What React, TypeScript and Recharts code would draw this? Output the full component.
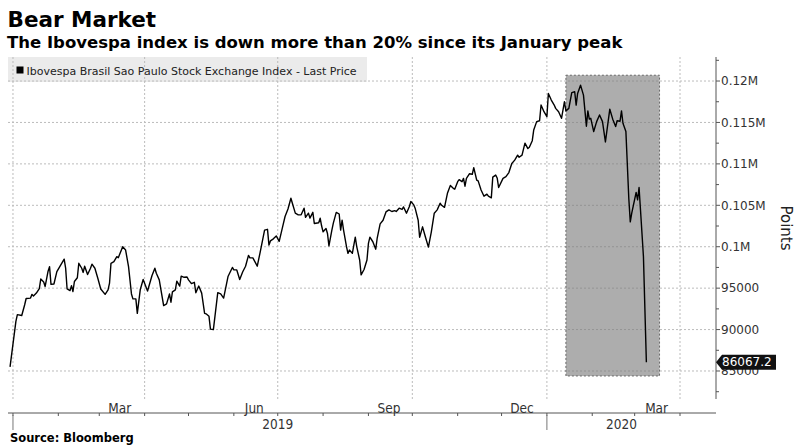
import { LineChart, Line, XAxis, YAxis, CartesianGrid, ReferenceArea } from "recharts";

// trading days, counted from 2019-01-01
const dayIndex = [
  -2, 2, 3, 6, 8, 9, 12, 13, 14, 16, 18, 19, 21, 22, 24, 25, 26, 28, 30, 32, 34, 35, 36, 37, 39, 40, 41, 42, 44, 45,
  47, 48, 49, 51, 53, 54, 56, 58, 60, 63, 65, 66, 67, 69, 71, 72, 75, 77, 79, 81, 82, 84, 85, 87, 89, 92, 95, 97, 98,
  100, 103, 105, 107, 108, 109, 111, 112, 114, 115, 117, 119, 120, 122, 124, 125, 127, 129, 131, 132, 134, 135, 137,
  140, 142, 144, 147, 150, 151, 153, 155, 157, 159, 161, 162, 164, 167, 169, 172, 174, 175, 176, 178, 180, 182, 184,
  186, 188, 190, 191, 193, 195, 197, 199, 200, 202, 203, 205, 206, 209, 210, 211, 212, 214, 215, 216, 218, 219, 221,
  223, 224, 225, 226, 228, 229, 230, 232, 234, 235, 237, 238, 240, 242, 243, 244, 246, 248, 249, 251, 253, 255, 257,
  259, 261, 262, 264, 266, 267, 269, 271, 272, 274, 275, 277, 278, 280, 282, 284, 286, 288, 290, 292, 293, 295, 297,
  299, 301, 302, 304, 305, 307, 308, 309, 310, 312, 314, 315, 317, 318, 320, 322, 324, 325, 327, 328, 330, 331, 332,
  335, 337, 339, 341, 343, 345, 346, 348, 350, 352, 353, 355, 356, 358, 360, 361, 363, 365, 366, 368, 370, 371, 373,
  375, 377, 378, 380, 382, 384, 385, 386, 388, 390, 392, 393, 394, 395, 397, 399, 401, 403, 405, 408, 410, 412, 413,
  415, 416, 417, 419, 421, 422, 423, 426, 427, 428, 429, 431, 433,
];

const lastPrice = [
  85500, 91000, 91800, 91700, 93000, 93750, 93800, 94250, 94050, 94400, 94950, 96100, 95740, 95200, 97050, 97600,
  95450, 95500, 97000, 97600, 98200, 98500, 97430, 94900, 94700, 95300, 94600, 95800, 96260, 98000,
  97400, 96900, 97650, 96650, 97400, 97900, 97400, 96200, 94900, 94250, 94800, 95600, 98000, 98200, 98800, 98675,
  100000, 99600, 97600, 94300, 93700, 93700, 91950, 94800, 96050, 94650, 96500, 97400, 96800,
  96000, 92900, 93100, 94300, 93300, 94550, 94800, 95850, 95250, 96450, 96310, 96350, 96000, 95550, 95700, 94450,
  95250, 94400, 91950, 91900, 91600, 90050, 90000,
  94450, 94300, 93800, 96400, 97500, 97200, 97200, 96050, 96950, 97650, 98950, 98650, 98650, 97650, 99350, 102000,
  102100, 100200, 100700, 100950, 101300, 100650, 102150,
  103650, 104550, 105850, 105250, 104050, 103850, 103850, 104650, 103550, 104050, 103450, 104150, 102800, 102900,
  103450, 102500, 101800, 102200, 101600, 100100, 102000, 102850, 104150,
  103950, 102000, 103200, 102000, 100000, 99200, 99600, 99200, 101150, 100000, 98400, 96600, 97250, 98400, 100400,
  101150, 100600, 99700, 101050, 102750, 103200, 104200, 104450,
  104250, 104350, 104250, 104650, 104500, 104800, 104050, 104850, 105450, 105050, 104600, 103200, 101150, 102400,
  101150, 99950, 101800, 104050, 104450, 105250, 105000, 104750, 106450,
  107400, 107050, 106950, 107850, 108100, 107850, 108250, 107300, 108250, 108800, 108750, 109550, 108050, 107950,
  106850, 106100, 106350, 106100, 105900, 108400, 108650, 108300, 107150,
  108250, 108450, 108950, 110050, 110450, 111050, 110800, 111050, 112500, 111850, 112000, 112800, 114100, 115100,
  115200, 117100, 116300, 115700, 118500, 117700, 117100, 116700, 116300,
  115500, 117500, 116400, 116700, 118600, 118700, 117100, 118500, 119500, 118300, 114550, 116400, 115400, 115500,
  113900, 115100, 115900, 115100, 112650, 116600, 115400, 114500, 115200,
  115150, 116400, 114900, 113900, 105800, 103000, 104050, 106550, 105650, 107150, 104400, 98800, 86067.2,
];

const monthStarts = [0, 31, 59, 90, 120, 151, 181, 212, 243, 273, 304, 334, 365, 396, 425, 456];
const quarterStarts = [0, 90, 181, 273, 365, 456];
const monthLabelDays = [73, 165, 257, 348, 440];
const monthLabels = ["Mar", "Jun", "Sep", "Dec", "Mar"];
const yearStarts = [0, 365];
const yearLabelDays = [181, 416];
const yearLabels = ["2019", "2020"];

const yTicks = [
  82500, 85000, 87500, 90000, 92500, 95000, 97500, 100000, 102500, 105000, 107500, 110000, 112500, 115000, 117500,
  120000, 122500,
];
const gridValues = [85000, 90000, 95000, 100000, 105000, 110000, 115000, 120000];

const lastClose = 86067.2;
const shadeDays = [378, 442];
const shadeRange = [84400, 120700];

const xDomain = [-3.4, 480.6];
const yDomain = [81620, 122900];

const rows = dayIndex.map((d, i) => ({ d, v: lastPrice[i] }));

const FONT = "'DejaVu Sans', sans-serif";
const NARROW = "'DejaVu Sans Condensed', 'Liberation Sans Narrow', 'DejaVu Sans', sans-serif";
const AXIS = "#555";

const fmtY = (v: number) => (v >= 100000 ? `${v / 1000000}M` : String(v));

function EmptyTick() {
  return <g />;
}

function YTick(props: any) {
  const { x, y, payload } = props;
  const v = payload.value;
  if (v === lastClose) {
    return (
      <g>
        <path d={`M${x},${y} L${x + 6},${y - 7.5} L${x + 60},${y - 7.5} L${x + 60},${y + 7.5} L${x + 6},${y + 7.5} Z`} fill="#111" />
        <text x={x + 6} y={y} dy="0.36em" fontFamily={FONT} fontSize={12} fill="#fff">
          {v.toFixed(1)}
        </text>
      </g>
    );
  }
  const major = v % 5000 === 0;
  return (
    <g>
      <line x1={x} x2={x + (major ? 4 : 3)} y1={y} y2={y} stroke={AXIS} />
      {major && (
        <text x={x + 5} y={y} dy="0.36em" fontFamily={FONT} fontSize={12} fill="#333">
          {fmtY(v)}
        </text>
      )}
    </g>
  );
}

function MonthTick(props: any) {
  const { x, y, payload } = props;
  const i = monthLabelDays.indexOf(payload.value);
  return (
    <text x={x} y={y} dy="1.02em" textAnchor="middle" fontFamily={NARROW} fontSize={13.5} fill="#333">
      {monthLabels[i]}
    </text>
  );
}

function YearTick(props: any) {
  const { x, y, payload } = props;
  if (yearStarts.includes(payload.value)) {
    return <line x1={x} x2={x} y1={y - 2} y2={y + 13} stroke="#777" />;
  }
  const i = yearLabelDays.indexOf(payload.value);
  return (
    <text x={x} y={y + 1} dy="0.78em" textAnchor="middle" fontFamily={NARROW} fontSize={13.5} fill="#333">
      {yearLabels[i]}
    </text>
  );
}

export default function App() {
  return (
    <div style={{ position: "absolute", left: 0, top: 0, width: 794, height: 446, background: "#fff", overflow: "hidden" }}>
      {/* legend band sits under the grid */}
      <div style={{ position: "absolute", left: 8, top: 57, width: 359, height: 25, background: "#ebebeb" }} />
      <div style={{ position: "absolute", left: 0, top: 0 }}>
        <LineChart width={794} height={446} data={rows} margin={{ top: 57, right: 0, bottom: 7, left: 8 }}>
          <CartesianGrid
            xAxisId="m"
            horizontalValues={gridValues}
            verticalValues={quarterStarts}
            stroke="#bcbcbc"
            strokeDasharray="2 2"
          />
          <XAxis
            xAxisId="m"
            dataKey="d"
            type="number"
            domain={xDomain}
            allowDataOverflow
            ticks={monthStarts}
            interval={0}
            tick={EmptyTick}
            tickSize={3}
            tickLine={{ stroke: AXIS }}
            axisLine={{ stroke: AXIS }}
            height={4}
          />
          <XAxis
            xAxisId="lbl"
            dataKey="d"
            type="number"
            domain={xDomain}
            allowDataOverflow
            ticks={monthLabelDays}
            interval={0}
            tick={MonthTick}
            tickSize={0}
            tickMargin={0}
            tickLine={false}
            axisLine={false}
            height={14}
          />
          <XAxis
            xAxisId="yr"
            dataKey="d"
            type="number"
            domain={xDomain}
            allowDataOverflow
            ticks={[...yearStarts, ...yearLabelDays]}
            interval={0}
            tick={YearTick}
            tickSize={0}
            tickMargin={0}
            tickLine={false}
            axisLine={false}
            height={22}
          />
          <YAxis
            orientation="right"
            width={78}
            type="number"
            domain={yDomain}
            allowDataOverflow
            ticks={[...yTicks, lastClose]}
            interval={0}
            tick={YTick}
            tickSize={0}
            tickMargin={0}
            tickLine={false}
            axisLine={{ stroke: AXIS }}
          />
          <ReferenceArea
            xAxisId="m"
            x1={shadeDays[0]}
            x2={shadeDays[1]}
            y1={shadeRange[0]}
            y2={shadeRange[1]}
            fill="#7a7a7a"
            fillOpacity={0.62}
            stroke="#6a6a6a"
            strokeDasharray="2 2"
            ifOverflow="visible"
          />
          <Line
            xAxisId="m"
            dataKey="v"
            type="linear"
            stroke="#000"
            strokeWidth={1.4}
            strokeLinejoin="round"
            dot={false}
            isAnimationActive={false}
          />
        </LineChart>
      </div>
      <svg width={794} height={446} style={{ position: "absolute", left: 0, top: 0, pointerEvents: "none" }}>
        <text x={7.5} y={26.7} fontFamily={FONT} fontWeight="bold" fontSize={21.5} fill="#000">
          Bear Market
        </text>
        <text x={7} y={48.3} fontFamily={FONT} fontWeight="bold" fontSize={16.5} fill="#000">
          The Ibovespa index is down more than 20% since its January peak
        </text>
        <rect x={16.5} y={66.5} width={7} height={7} fill="#000" />
        <text x={26.5} y={74.5} fontFamily={FONT} fontSize={11} fill="#222">
          Ibovespa Brasil Sao Paulo Stock Exchange Index - Last Price
        </text>
        <text x={786} y={228} transform="rotate(90 786 228)" textAnchor="middle" dy="0.36em" fontFamily={FONT} fontSize={15} fill="#222">
          Points
        </text>
        <text x={10} y={442.3} fontFamily={FONT} fontWeight="bold" fontSize={11.5} fill="#000">
          Source: Bloomberg
        </text>
      </svg>
    </div>
  );
}
